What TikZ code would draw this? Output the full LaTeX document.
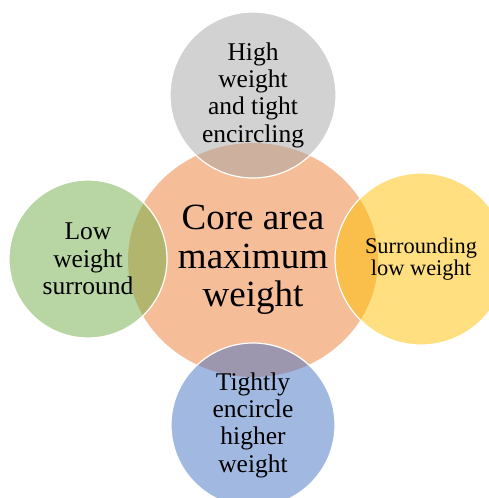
\documentclass[tikz,border=0pt]{standalone}
\usepackage{fontspec}
\setmainfont{Liberation Serif}
\usetikzlibrary{shapes.geometric}

\definecolor{coreorange}{HTML}{ED7D31}
\definecolor{petalgray}{HTML}{A5A5A5}
\definecolor{petalgreen}{HTML}{70AD47}
\definecolor{petalgold}{HTML}{FFC000}
\definecolor{petalblue}{HTML}{4472C4}

\begin{document}
\begin{tikzpicture}[x=1pt,y=-1pt,
  petal/.style={circle,draw=white,line width=1.2pt,fill opacity=0.5,
    text opacity=1,inner sep=0pt,align=center,
    font=\fontsize{25.5}{27.3}\selectfont}]
  % Fix the frame
  \useasboundingbox (0,0) rectangle (489,498);
  \clip (0,0) rectangle (489,498);
  % Draw the core
  \node (core) [ellipse,fill=coreorange,fill opacity=0.5,text opacity=1,
    inner sep=0pt,minimum width=250pt,minimum height=234pt,align=center,
    font=\fontsize{37}{38.5}\selectfont] at (253,260) {Core area\\maximum\\weight};
  % Draw the four petals
  \node (high) [petal,fill=petalgray,minimum size=166pt] at (253,95)
    {High\\weight\\and tight\\encircling};
  \node (low) [petal,fill=petalgreen,minimum size=158pt] at (88,259)
    {Low\\weight\\surround};
  \node (around) [petal,fill=petalgold,minimum size=172pt,
    font=\fontsize{22.4}{22}\selectfont] at (421,259)
    {Surrounding\\low weight};
  \node (tight) [petal,fill=petalblue,minimum size=164pt] at (253,425)
    {Tightly\\encircle\\higher\\weight};
\end{tikzpicture}
\end{document}
